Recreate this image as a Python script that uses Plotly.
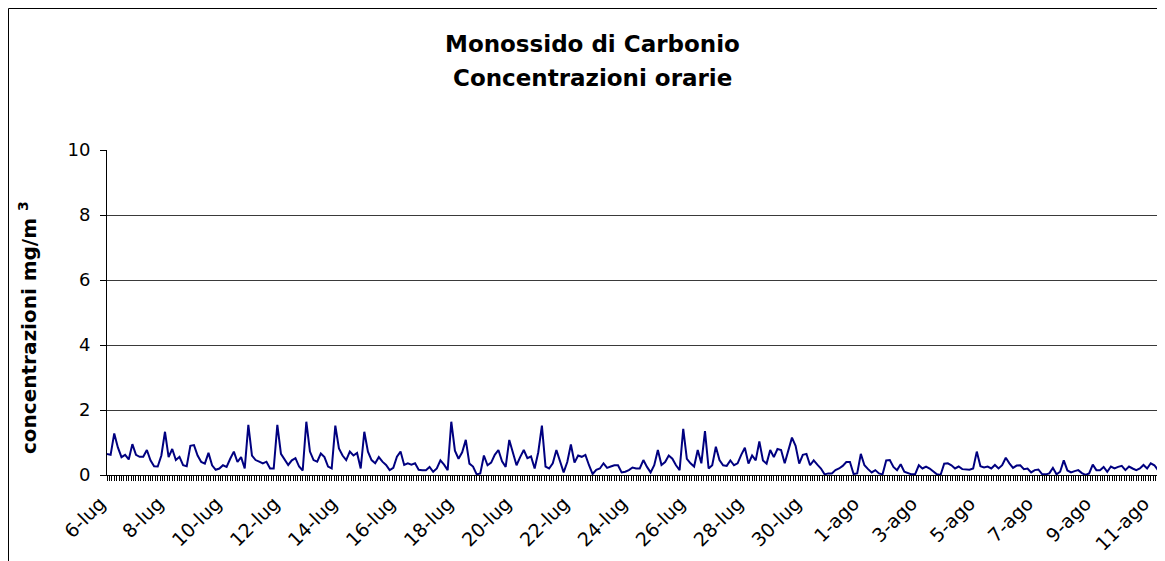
import pandas as pd
import plotly.graph_objects as go

# CO hourly concentrations (mg/m3), read every 3 hours from the chart
co_luglio = [
    0.65, 0.62, 1.28, 0.85, 0.55, 0.62, 0.48, 0.95,   # 6-lug
    0.62, 0.56, 0.56, 0.77, 0.45, 0.27, 0.26, 0.60,
    1.33, 0.55, 0.80, 0.46, 0.56, 0.30, 0.27, 0.90,   # 8-lug
    0.92, 0.60, 0.40, 0.35, 0.68, 0.30, 0.16, 0.20,
    0.30, 0.25, 0.50, 0.72, 0.40, 0.55, 0.20, 1.54,   # 10-lug
    0.60, 0.46, 0.41, 0.36, 0.41, 0.20, 0.20, 1.54,
    0.65, 0.46, 0.31, 0.45, 0.52, 0.26, 0.14, 1.64,   # 12-lug
    0.72, 0.46, 0.41, 0.66, 0.55, 0.26, 0.20, 1.52,
    0.82, 0.60, 0.46, 0.72, 0.60, 0.68, 0.20, 1.33,   # 14-lug
    0.72, 0.46, 0.36, 0.55, 0.41, 0.31, 0.15, 0.22,
    0.56, 0.72, 0.31, 0.36, 0.32, 0.36, 0.16, 0.15,   # 16-lug
    0.15, 0.25, 0.10, 0.20, 0.45, 0.32, 0.15, 1.64,
    0.75, 0.50, 0.70, 1.08, 0.35, 0.26, 0.02, 0.05,   # 18-lug
    0.60, 0.30, 0.38, 0.62, 0.77, 0.42, 0.25, 1.08,
    0.72, 0.30, 0.55, 0.77, 0.52, 0.57, 0.20, 0.70,   # 20-lug
    1.52, 0.26, 0.20, 0.36, 0.77, 0.40, 0.08, 0.40,
    0.94, 0.38, 0.60, 0.56, 0.62, 0.30, 0.03, 0.16,   # 22-lug
    0.20, 0.36, 0.22, 0.26, 0.30, 0.30, 0.08, 0.10,
    0.15, 0.23, 0.20, 0.20, 0.46, 0.25, 0.08, 0.30,   # 24-lug
    0.77, 0.31, 0.40, 0.60, 0.50, 0.30, 0.15, 1.42,
    0.50, 0.36, 0.26, 0.77, 0.36, 1.35, 0.20, 0.30,   # 26-lug
    0.87, 0.46, 0.30, 0.28, 0.45, 0.30, 0.36, 0.62,
    0.84, 0.35, 0.60, 0.45, 1.03, 0.45, 0.35, 0.77,   # 28-lug
    0.55, 0.80, 0.77, 0.36, 0.77, 1.15, 0.90, 0.35,
    0.62, 0.65, 0.30, 0.45, 0.32, 0.20, 0.02, 0.05,   # 30-lug
    0.05, 0.15, 0.20, 0.28, 0.40, 0.40, 0.03, 0.05,
]
co_agosto = [
    0.65, 0.30, 0.18, 0.08, 0.15, 0.05, 0.02, 0.45,   # 1-ago
    0.46, 0.25, 0.15, 0.33, 0.10, 0.05, 0.02, 0.03,
    0.30, 0.20, 0.26, 0.20, 0.10, 0.02, 0.00, 0.35,   # 3-ago
    0.36, 0.30, 0.20, 0.26, 0.18, 0.18, 0.16, 0.20,
    0.72, 0.27, 0.23, 0.26, 0.20, 0.31, 0.20, 0.30,   # 5-ago
    0.53, 0.36, 0.22, 0.29, 0.30, 0.18, 0.20, 0.08,
    0.15, 0.17, 0.03, 0.02, 0.05, 0.22, 0.02, 0.10,   # 7-ago
    0.45, 0.14, 0.08, 0.12, 0.15, 0.06, 0.00, 0.05,
    0.32, 0.15, 0.15, 0.25, 0.10, 0.26, 0.20, 0.25,   # 9-ago
    0.28, 0.15, 0.26, 0.20, 0.15, 0.20, 0.31, 0.20,
    0.36, 0.30, 0.15,                                 # 11-ago
]
etichette = ["6-lug", "8-lug", "10-lug", "12-lug", "14-lug", "16-lug", "18-lug",
             "20-lug", "22-lug", "24-lug", "26-lug", "28-lug", "30-lug",
             "1-ago", "3-ago", "5-ago", "7-ago", "9-ago", "11-ago"]

valori = co_luglio + co_agosto
orari = pd.date_range("2005-07-06 00:00", periods=len(valori), freq="3h")
tick_date = pd.date_range("2005-07-06", periods=len(etichette), freq="2D")

FONT = "DejaVu Sans"
OFF = 8  # page body margin around the figure
W, H = 1165 - OFF, 561 - OFF
L, R, T, B = 99, 7, 142, 86
pw, ph = W - L - R, H - T - B

# page pixel -> paper coordinates
def px(x):
    return (x - OFF - L) / pw

def py(y):
    return (H - B - (y - OFF)) / ph

fig = go.Figure()
fig.add_trace(go.Scatter(x=orari, y=valori, mode="lines",
                         line=dict(color="#000080", width=2), showlegend=False))

fig.update_layout(
    width=W, height=H, autosize=False,
    margin=dict(l=L, r=R, t=T, b=B),
    paper_bgcolor="white", plot_bgcolor="white",
    font=dict(family=FONT, color="black", size=17),
    xaxis=dict(type="date", range=[orari[0], orari[-1]],
               tickmode="array", tickvals=tick_date, ticktext=etichette,
               tickangle=-45, ticks="outside", ticklen=5, tickcolor="black",
               showline=True, linecolor="black", linewidth=1, showgrid=False,
               tickfont=dict(size=19), ticklabelshift=-7, ticklabelstandoff=4,
               minor=dict(ticks="outside", ticklen=5, tickcolor="black", tickwidth=1,
                          tick0=orari[0], dtick=2 * 3600 * 1000, showgrid=False)),
    yaxis=dict(range=[0, 10], dtick=2, ticks="outside", ticklen=6, tickcolor="black",
               showline=True, linecolor="black", linewidth=1,
               gridcolor="#3a3a3a", gridwidth=1, zeroline=False,
               tickfont=dict(size=18), ticklabelstandoff=6),
    shapes=[
        dict(type="rect", xref="paper", yref="paper",
             x0=px(8.5), x1=px(1180), y0=py(580), y1=py(8.5),
             line=dict(color="black", width=1)),
        dict(type="line", xref="paper", yref="paper", x0=1, x1=1, y0=0, y1=1,
             line=dict(color="#808080", width=1.5)),
    ],
    annotations=[
        dict(text="<b>Monossido di Carbonio</b>", xref="paper", yref="paper",
             x=px(592), y=py(44), showarrow=False, yanchor="middle",
             font=dict(size=23)),
        dict(text="<b>Concentrazioni orarie</b>", xref="paper", yref="paper",
             x=px(592), y=py(78), showarrow=False, yanchor="middle",
             font=dict(size=23)),
        dict(text="<b>concentrazioni mg/m <sup>3</sup></b>", xref="paper", yref="paper",
             x=px(28), y=py(328), showarrow=False, textangle=-90,
             xanchor="center", yanchor="middle", font=dict(size=20)),
    ],
)

fig.write_html("out.html")
